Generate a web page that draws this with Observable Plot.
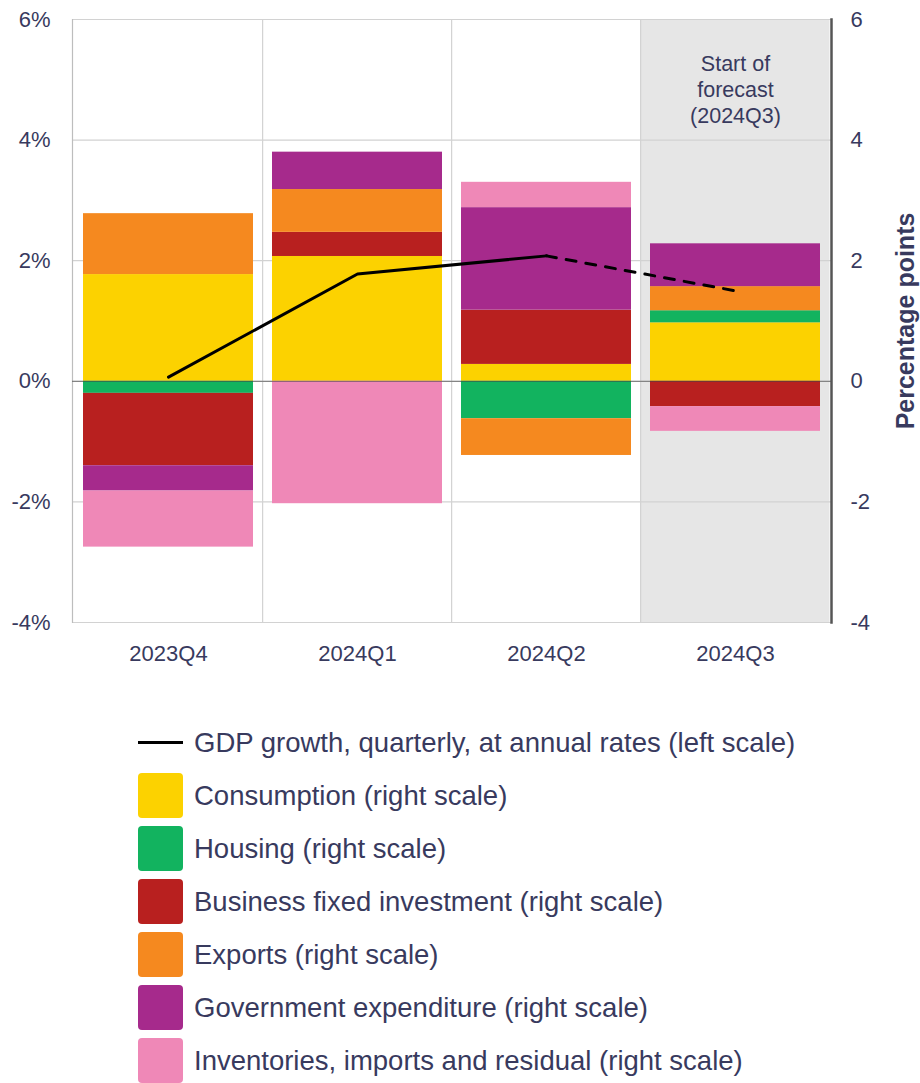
<!DOCTYPE html>
<html>
<head>
<meta charset="utf-8">
<script src="https://cdn.jsdelivr.net/npm/d3@7"></script>
<script src="https://cdn.jsdelivr.net/npm/@observablehq/plot@0.6"></script>
<style>
  html, body { margin: 0; padding: 0; background: #fff; }
  body { font-family: "Liberation Sans", Arial, sans-serif; color: #383a5e; width: 920px; }
  #legend { margin-top: 26px; }
  .row { display: flex; align-items: center; height: 53px; }
  .sw { width: 45px; height: 45px; border-radius: 4px; margin-left: 138px; margin-right: 11px; flex: none; }
  .ln { width: 45px; height: 3px; background: #000; margin-left: 138px; margin-right: 11px; flex: none; }
  .lab { font-size: 27.5px; white-space: nowrap; }
</style>
</head>
<body>
<div id="chart"></div>
<div id="legend"></div>
<script>
const quarters = ["2023Q4", "2024Q1", "2024Q2", "2024Q3"];
const seriesNames = ["Consumption", "Housing", "Business fixed investment", "Exports", "Government expenditure", "Inventories, imports and residual"];
const seriesColors = ["#fcd200", "#12b35f", "#b8201f", "#f5891f", "#a62a8c", "#ef88b7"];
const consumption = [1.77, 2.07, 0.28, 0.97];
const housing = [-0.20, 0.00, -0.62, 0.20];
const business = [-1.20, 0.40, 0.90, -0.42];
const exportsVals = [1.01, 0.71, -0.61, 0.40];
const government = [-0.42, 0.62, 1.70, 0.71];
const inventories = [-0.93, -2.03, 0.42, -0.41];
const gdp = [0.07, 1.78, 2.08, 1.50];
const yTicks = [-4, -2, 0, 2, 4, 6];
const forecastQuarter = ["2024Q3"];
const forecastLabel = "Start of\nforecast\n(2024Q3)";
const gdpLabel = "GDP growth, quarterly, at annual rates (left scale)";
const scaleSuffix = " (right scale)";

const seriesValues = [consumption, housing, business, exportsVals, government, inventories];
const bars = [];
quarters.forEach((q, i) => {
  seriesNames.forEach((s, j) => bars.push({quarter: q, series: s, value: seriesValues[j][i]}));
});
const gdpData = quarters.map((q, i) => ({quarter: q, value: gdp[i]}));

const W = 920, H = 690, ML = 72, MR = 89, MT = 19, MB = 68;
const pIn = 0.1, pOut = 0.05;
const step = (W - ML - MR) / (quarters.length - pIn + 2 * pOut);
const half = step * pIn / 2;
const ink = "#383a5e";

const chart = Plot.plot({
  width: W, height: H,
  marginLeft: ML, marginRight: MR, marginTop: MT, marginBottom: MB,
  style: {fontFamily: '"Liberation Sans", Arial, sans-serif', fontSize: "22px", color: ink, background: "transparent"},
  x: {type: "band", domain: quarters, paddingInner: pIn, paddingOuter: pOut, axis: null},
  y: {domain: [-4, 6], axis: null},
  color: {domain: seriesNames, range: seriesColors},
  marks: [
    Plot.cell(forecastQuarter, {x: d => d, fill: "#e6e6e6", insetLeft: -half, insetRight: -half}),
    Plot.ruleY(yTicks, {stroke: "#d2d2d2", strokeWidth: 1.2}),
    Plot.ruleX(quarters.slice(1), {x: d => d, dx: -step / 2, stroke: "#d2d2d2", strokeWidth: 1.2}),
    Plot.frame({anchor: "left", stroke: "#bdbdbd", strokeWidth: 1.2}),
    Plot.barY(bars, Plot.stackY({x: "quarter", y: "value", fill: "series"})),
    Plot.ruleY([0], {stroke: "#444", strokeOpacity: 0.55, strokeWidth: 1.3}),
    Plot.frame({anchor: "right", stroke: "#555", strokeWidth: 2.5}),
    Plot.line(gdpData.slice(0, 3), {x: "quarter", y: "value", stroke: "#000", strokeWidth: 3}),
    Plot.line(gdpData.slice(2), {x: "quarter", y: "value", stroke: "#000", strokeWidth: 3, strokeDasharray: "10,10"}),
    Plot.text([forecastLabel], {x: () => forecastQuarter[0], frameAnchor: "top", dy: 69, lineAnchor: "middle", lineHeight: 1.2, fontSize: 21.5, fill: ink, textAnchor: "middle"}),
    Plot.axisY(yTicks, {anchor: "left", tickSize: 0, tickPadding: 22, tickFormat: d => d + "%", fontSize: 22, label: null}),
    Plot.axisY(yTicks, {anchor: "right", tickSize: 0, tickPadding: 19, tickFormat: d => String(d), fontSize: 22, label: null}),
    Plot.axisX({tickSize: 0, tickPadding: 23, fontSize: 22, label: null}),
    Plot.text(["Percentage points"], {frameAnchor: "right", dx: 74, rotate: -90, textAnchor: "middle", fontWeight: "bold", fontSize: 25, fill: ink})
  ]
});
document.getElementById("chart").appendChild(chart);

const legend = document.getElementById("legend");
const r0 = document.createElement("div");
r0.className = "row";
r0.innerHTML = `<div class="ln"></div><div class="lab">${gdpLabel}</div>`;
legend.appendChild(r0);
seriesNames.forEach((s, i) => {
  const r = document.createElement("div");
  r.className = "row";
  r.innerHTML = `<div class="sw" style="background:${seriesColors[i]}"></div><div class="lab">${s}${scaleSuffix}</div>`;
  legend.appendChild(r);
});
</script>
</body>
</html>
